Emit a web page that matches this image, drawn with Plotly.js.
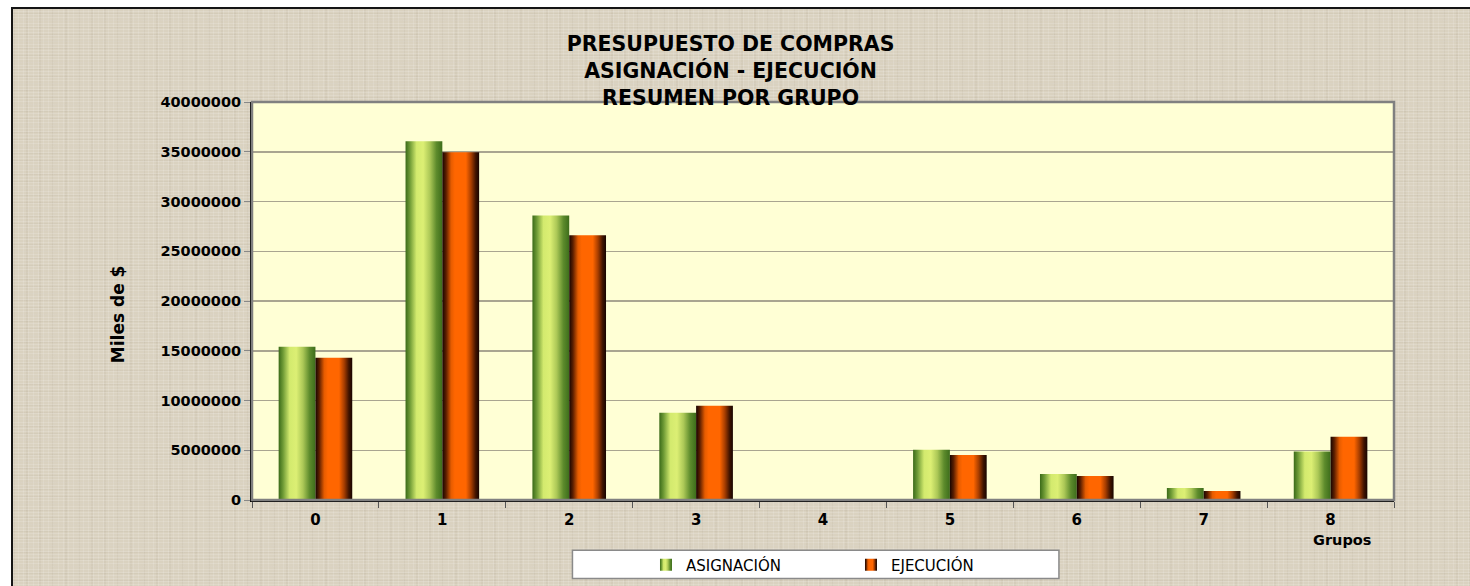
<!DOCTYPE html>
<html>
<head>
<meta charset="utf-8">
<script src="https://cdn.plot.ly/plotly-3.0.1.min.js"></script>
<style>
  html, body { margin: 0; padding: 0; background: #ffffff; width: 1470px; height: 586px; overflow: hidden; }
  #frame {
    position: absolute; left: 11px; top: 7px; width: 1470px; height: 600px;
    border-left: 2px solid #151515; border-top: 2px solid #151515;
    background-color: #dad2c0;
    background-image:
      repeating-linear-gradient(0deg, rgba(255,255,255,0.14) 0 1px, transparent 1px 3px),
      repeating-linear-gradient(90deg, rgba(255,255,255,0.12) 0 1px, transparent 1px 5px),
      repeating-linear-gradient(0deg, rgba(120,105,80,0.06) 0 1px, transparent 1px 7px),
      repeating-linear-gradient(90deg, rgba(120,105,80,0.06) 0 2px, transparent 2px 13px);
  }
  #chart { position: absolute; left: 0; top: 0; width: 1470px; height: 586px; }
</style>
</head>
<body>
<div id="frame"></div>
<div id="chart"></div>
<script>
// ---- data ----
const categories = ['0', '1', '2', '3', '4', '5', '6', '7', '8'];
const asignacion = [15400000, 36050000, 28600000, 8770000, 0, 5040000, 2620000, 1210000, 4870000];
const ejecucion  = [14300000, 34960000, 26600000, 9470000, 0, 4530000, 2420000, 900000, 6350000];
const seriesNames = ['ASIGNACIÓN', 'EJECUCIÓN'];
const titleLines = ['PRESUPUESTO DE COMPRAS', 'ASIGNACIÓN - EJECUCIÓN', 'RESUMEN POR GRUPO'];
const yTitle = 'Miles de $';
const xTitle = 'Grupos';

const FONT = 'DejaVu Sans, Verdana, sans-serif';

const traces = [
  { type: 'bar', name: seriesNames[0], x: categories, y: asignacion,
    marker: { color: '#b5d35a', line: { width: 0 } } },
  { type: 'bar', name: seriesNames[1], x: categories, y: ejecucion,
    marker: { color: '#ff6600', line: { width: 0 } } }
];

const layout = {
  width: 1470, height: 586,
  margin: { l: 252, r: 76, t: 102, b: 86 },
  paper_bgcolor: 'rgba(0,0,0,0)',
  plot_bgcolor: '#ffffd5',
  font: { family: FONT, color: '#000' },
  barmode: 'group', bargap: 0.42, bargroupgap: 0,
  title: {
    text: titleLines.join('<br>'),
    font: { family: FONT, size: 20.5, weight: 'bold', color: '#000' },
    xref: 'container', x: 0.497, xanchor: 'center',
    yref: 'container', y: 0.955 - 25 / 586, yanchor: 'top'
  },
  xaxis: {
    type: 'category',
    showline: true, linecolor: '#000', linewidth: 2,
    ticks: 'outside', tickson: 'boundaries', ticklen: 6, tickcolor: '#555', tickwidth: 1,
    tickfont: { family: FONT, size: 15, weight: 'bold', color: '#000' },
    ticklabelstandoff: 5,
    showgrid: false, zeroline: false
  },
  yaxis: {
    range: [0, 40000000], dtick: 5000000, tick0: 0, tickformat: 'd',
    showline: true, linecolor: '#000', linewidth: 2,
    ticks: 'outside', ticklen: 6, tickcolor: '#888', tickwidth: 1,
    tickfont: { family: FONT, size: 14.5, weight: 'bold', color: '#000' },
    showgrid: true, gridcolor: '#a9a590', gridwidth: 1.5,
    zeroline: false
  },
  shapes: [
    { type: 'rect', xref: 'paper', yref: 'paper', x0: 0, x1: 1, y0: 0, y1: 1,
      line: { color: '#808080', width: 2.5 }, layer: 'above' },
    { type: 'rect', xref: 'paper', yref: 'paper', x0: 0.2806, x1: 0.7066, y0: -0.126, y1: -0.197,
      fillcolor: '#ffffff', line: { color: '#8a8a8a', width: 1.5 }, layer: 'below' }
  ],
  annotations: [
    { text: yTitle, xref: 'paper', yref: 'paper', x: -0.1173, y: 0.467, textangle: -90,
      showarrow: false, xanchor: 'center', yanchor: 'middle',
      font: { family: FONT, size: 17, weight: 'bold', color: '#000' } },
    { text: xTitle, xref: 'x', yref: 'paper', x: '8', y: -0.0755, xshift: 11,
      showarrow: false, xanchor: 'center', yanchor: 'top',
      font: { family: FONT, size: 14.5, weight: 'bold', color: '#000' } }
  ],
  legend: {
    orientation: 'h', xref: 'paper', yref: 'container',
    x: 0.3450, xanchor: 'left', y: 21 / 586, yanchor: 'middle',
    bgcolor: 'rgba(0,0,0,0)', borderwidth: 0,
    entrywidth: 160, entrywidthmode: 'pixels',
    font: { family: FONT, size: 15, color: '#000' },
    traceorder: 'normal'
  },
  showlegend: true
};

const gd = document.getElementById('chart');
Plotly.newPlot(gd, traces, layout, { displayModeBar: false, staticPlot: true }).then(function () {
  const NS = 'http://www.w3.org/2000/svg';
  const svg = gd.querySelector('svg.main-svg');
  let defs = svg.querySelector('defs');
  if (!defs) { defs = document.createElementNS(NS, 'defs'); svg.insertBefore(defs, svg.firstChild); }
  const grads = [
    [[0, '#3a6a18'], [0.12, '#6f9b36'], [0.30, '#d3ea6e'], [0.48, '#dcef74'], [0.66, '#acc857'], [0.84, '#5d8b2c'], [1, '#3d6d1b']],
    [[0, '#170400'], [0.10, '#5a1e00'], [0.24, '#e65c00'], [0.34, '#ff6600'], [0.64, '#ff6600'], [0.78, '#a83e00'], [0.91, '#3f1300'], [1, '#180500']]
  ];
  grads.forEach(function (stops, i) {
    const lg = document.createElementNS(NS, 'linearGradient');
    lg.setAttribute('id', 'barGrad' + i);
    lg.setAttribute('x1', '0'); lg.setAttribute('y1', '0');
    lg.setAttribute('x2', '1'); lg.setAttribute('y2', '0');
    stops.forEach(function (s) {
      const st = document.createElementNS(NS, 'stop');
      st.setAttribute('offset', s[0]);
      st.setAttribute('stop-color', s[1]);
      lg.appendChild(st);
    });
    defs.appendChild(lg);
  });
  gd.querySelectorAll('.barlayer .trace').forEach(function (tr, i) {
    tr.querySelectorAll('path').forEach(function (p) { p.style.fill = 'url(#barGrad' + i + ')'; });
  });
  gd.querySelectorAll('.legend .traces').forEach(function (tr, i) {
    tr.querySelectorAll('.legendpoints path').forEach(function (p) { p.style.fill = 'url(#barGrad' + i + ')'; });
  });
});
</script>
</body>
</html>
